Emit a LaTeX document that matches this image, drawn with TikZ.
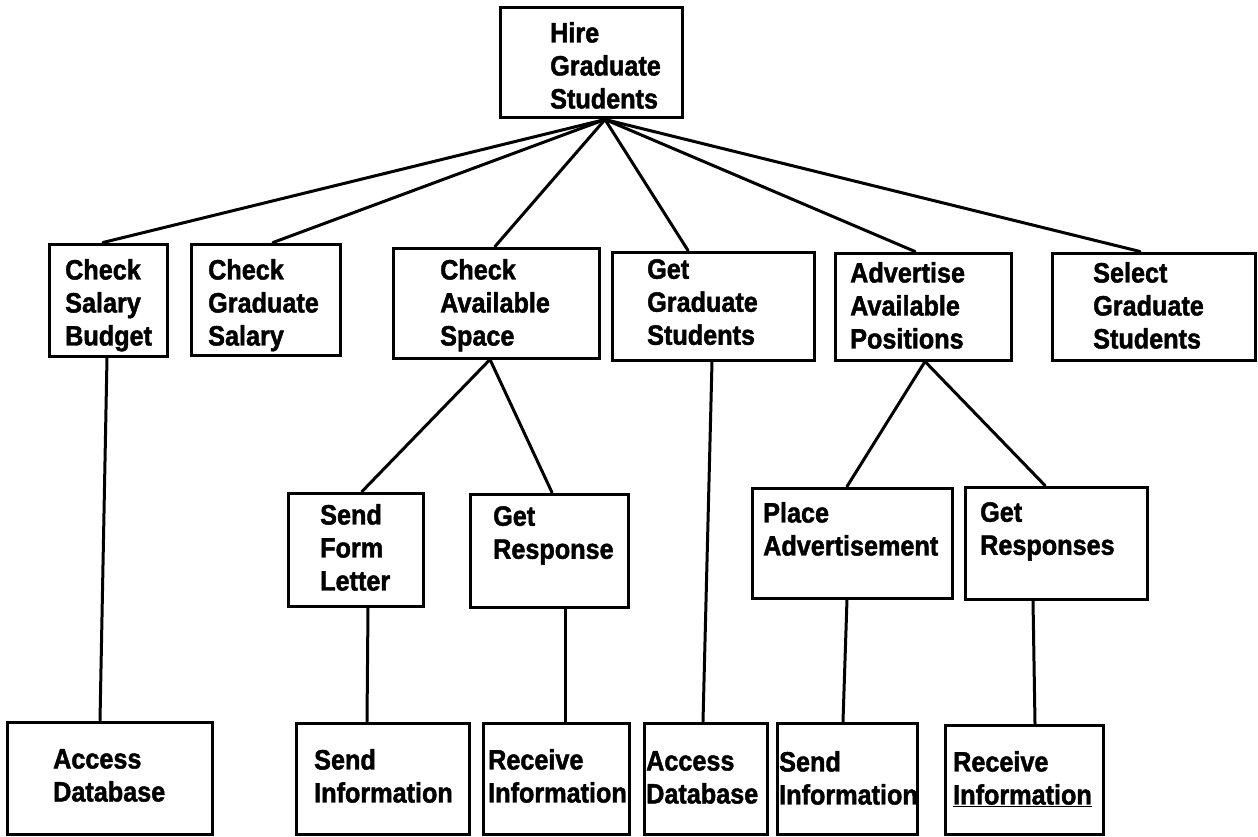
\documentclass[tikz,border=0pt]{standalone}
\usepackage{fontspec}
\newfontfamily\boxfont{Liberation Sans}[FakeStretch=0.9, BoldFeatures={FakeBold=1.6}]
\usetikzlibrary{calc}

% a task box given by its corners (x1,y1) and (x2,y2), y measured downwards
\newcommand\taskbox[5]{%
  \node[box, minimum width={#4-#2}, minimum height={#5-#3}] (#1)
    at ({(#2+#4)/2},{(#3+#5)/2}) {};}
% the label of a task: left edge and first baseline
\newcommand\tasktext[4]{%
  \node[txt] (#1) at (#2,{#3-21}) {#4};}

\begin{document}
\begin{tikzpicture}[x=1pt,y=-1pt,
  box/.style={draw, line width=3pt, rectangle, inner sep=0pt},
  txt/.style={anchor=north west, inner sep=0pt, align=left,
    font=\boxfont\bfseries\fontsize{28pt}{33pt}\selectfont},
  link/.style={line width=3pt, line cap=round}]
\useasboundingbox (0,0) rectangle (1258,837);

% level 0
\taskbox{hire}{500}{8}{682}{118}
\tasktext{hireT}{550}{43}{Hire\\Graduate\\Students}

% level 1
\taskbox{csb}{49}{244}{167}{356}
\tasktext{csbT}{65}{280}{Check\\Salary\\Budget}
\taskbox{cgs}{191}{244}{340}{355}
\tasktext{cgsT}{208}{280}{Check\\Graduate\\Salary}
\taskbox{cas}{393}{248}{599}{358}
\tasktext{casT}{440}{280}{Check\\Available\\Space}
\taskbox{ggs}{612}{252}{814}{360}
\tasktext{ggsT}{647}{280}{Get\\Graduate\\Students}
\taskbox{aap}{835}{253}{1011}{360}
\tasktext{aapT}{850}{283}{Advertise\\Available\\Positions}
\taskbox{sgs}{1052}{253}{1255}{360}
\tasktext{sgsT}{1093}{283}{Select\\Graduate\\Students}

% level 2
\taskbox{sfl}{288}{493}{423}{606}
\tasktext{sflT}{320}{525}{Send\\Form\\Letter}
\taskbox{gr}{470}{494}{628}{607}
\tasktext{grT}{493}{527}{Get\\Response}
\taskbox{pa}{752}{488}{952}{598}
\tasktext{paT}{763}{523}{Place\\Advertisement}
\taskbox{grs}{965}{487}{1147}{599}
\tasktext{grsT}{980}{523}{Get\\Responses}

% level 3
\taskbox{adA}{7}{722}{212}{834}
\tasktext{adAT}{53}{770}{Access\\Database}
\taskbox{siA}{296}{723}{469}{834}
\tasktext{siAT}{314}{770}{Send\\Information}
\taskbox{riA}{483}{723}{629}{834}
\tasktext{riAT}{488}{770}{Receive\\Information}
\taskbox{adB}{644}{723}{767}{834}
\tasktext{adBT}{646}{772}{Access\\Database}
\taskbox{siB}{777}{723}{917}{834}
\tasktext{siBT}{779}{772}{Send\\Information}
\taskbox{riB}{945}{725}{1103}{834}
\tasktext{riBT}{953}{772}{Receive\\\underline{Information}}

% connectors from the root
\coordinate (fan) at ([xshift=14pt]hire.south);
\draw[link] (fan) -- ([xshift=-5pt]csb.north);
\draw[link] (fan) -- ([xshift=7.5pt]cgs.north);
\draw[link] (fan) -- ([xshift=-1pt]cas.north);
\draw[link] (fan) -- ([xshift=-25pt]ggs.north);
\draw[link] (fan) -- ([xshift=-8pt]aap.north);
\draw[link] (fan) -- ([xshift=-13.5pt]sgs.north);

% second level
\draw[link] ([xshift=-6pt]cas.south) -- ([xshift=6.5pt]sfl.north);
\draw[link] ([xshift=-6pt]cas.south) -- ([xshift=3pt]gr.north);
\draw[link] ([xshift=2pt]aap.south) -- ([xshift=-5pt]pa.north);
\draw[link] ([xshift=2pt]aap.south) -- ([xshift=-11pt]grs.north);

% down to the leaves
\draw[link] ([xshift=-1pt]csb.south) -- ([xshift=-9.5pt]adA.north);
\draw[link] ([xshift=12.5pt]sfl.south) -- ([xshift=-15.5pt]siA.north);
\draw[link] ([xshift=16pt]gr.south) -- ([xshift=9pt]riA.north);
\draw[link] ([xshift=-1pt]ggs.south) -- ([xshift=-2.5pt]adB.north);
\draw[link] ([xshift=-5pt]pa.south) -- ([xshift=-4pt]siB.north);
\draw[link] ([xshift=-23pt]grs.south) -- ([xshift=11pt]riB.north);
\end{tikzpicture}
\end{document}
